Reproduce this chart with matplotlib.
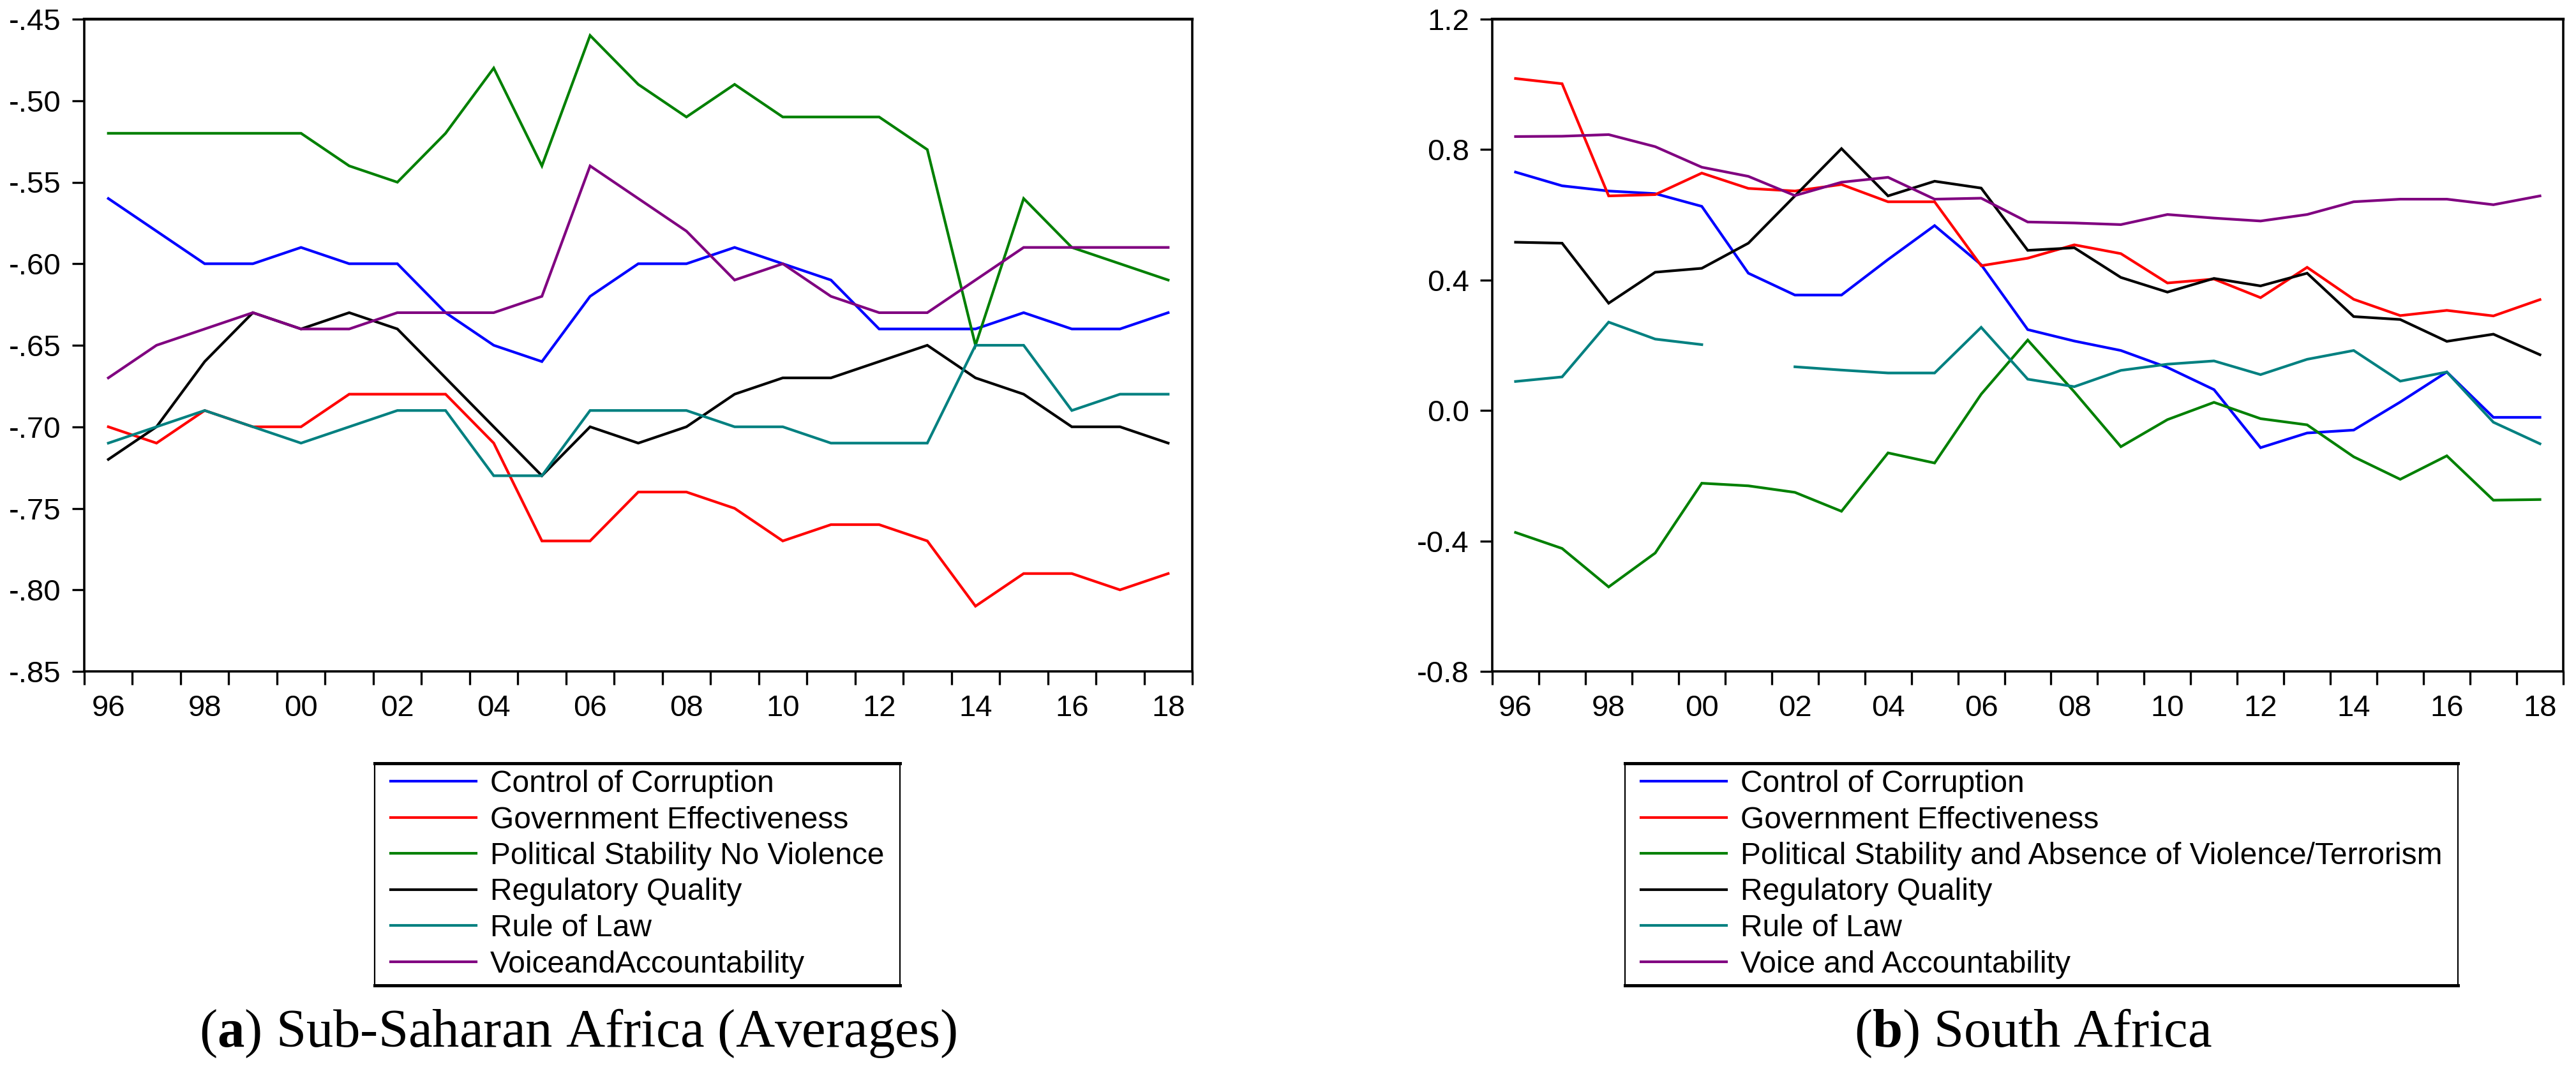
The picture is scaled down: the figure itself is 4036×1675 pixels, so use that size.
import matplotlib
matplotlib.use("Agg")
import matplotlib.pyplot as plt
import numpy as np
from matplotlib.ticker import FixedLocator, FuncFormatter
from matplotlib.patches import Rectangle
from matplotlib.lines import Line2D

# ---- data ----
years = list(range(1996, 2019))

labels_ssa = ["Control of Corruption", "Government Effectiveness",
              "Political Stability No Violence", "Regulatory Quality",
              "Rule of Law", "VoiceandAccountability"]
labels_za = ["Control of Corruption", "Government Effectiveness",
             "Political Stability and Absence of Violence/Terrorism",
             "Regulatory Quality", "Rule of Law", "Voice and Accountability"]

# Sub-Saharan Africa (averages)
ssa_cc = [-0.56, -0.58, -0.60, -0.60, -0.59, -0.60, -0.60, -0.63, -0.65, -0.66, -0.62, -0.60,
          -0.60, -0.59, -0.60, -0.61, -0.64, -0.64, -0.64, -0.63, -0.64, -0.64, -0.63]
ssa_ge = [-0.70, -0.71, -0.69, -0.70, -0.70, -0.68, -0.68, -0.68, -0.71, -0.77, -0.77, -0.74,
          -0.74, -0.75, -0.77, -0.76, -0.76, -0.77, -0.81, -0.79, -0.79, -0.80, -0.79]
ssa_ps = [-0.52, -0.52, -0.52, -0.52, -0.52, -0.54, -0.55, -0.52, -0.48, -0.54, -0.46, -0.49,
          -0.51, -0.49, -0.51, -0.51, -0.51, -0.53, -0.65, -0.56, -0.59, -0.60, -0.61]
ssa_rq = [-0.72, -0.70, -0.66, -0.63, -0.64, -0.63, -0.64, -0.67, -0.70, -0.73, -0.70, -0.71,
          -0.70, -0.68, -0.67, -0.67, -0.66, -0.65, -0.67, -0.68, -0.70, -0.70, -0.71]
ssa_rl = [-0.71, -0.70, -0.69, -0.70, -0.71, -0.70, -0.69, -0.69, -0.73, -0.73, -0.69, -0.69,
          -0.69, -0.70, -0.70, -0.71, -0.71, -0.71, -0.65, -0.65, -0.69, -0.68, -0.68]
ssa_va = [-0.67, -0.65, -0.64, -0.63, -0.64, -0.64, -0.63, -0.63, -0.63, -0.62, -0.54, -0.56,
          -0.58, -0.61, -0.60, -0.62, -0.63, -0.63, -0.61, -0.59, -0.59, -0.59, -0.59]

# South Africa
za_cc = [0.731, 0.689, 0.673, 0.665, 0.626, 0.421, 0.354, 0.354, 0.463, 0.567, 0.447, 0.248,
         0.213, 0.184, 0.132, 0.064, -0.114, -0.069, -0.060, 0.026, 0.118, -0.021, -0.021]
za_ge = [1.018, 1.002, 0.658, 0.662, 0.728, 0.681, 0.673, 0.693, 0.640, 0.640, 0.444, 0.467,
         0.508, 0.481, 0.391, 0.403, 0.346, 0.439, 0.341, 0.291, 0.307, 0.290, 0.340]
za_ps = [-0.374, -0.423, -0.541, -0.437, -0.223, -0.231, -0.251, -0.309, -0.130, -0.161, 0.050,
         0.216, 0.057, -0.111, -0.028, 0.025, -0.025, -0.044, -0.142, -0.211, -0.139, -0.275, -0.273]
za_rq = [0.516, 0.513, 0.329, 0.424, 0.436, 0.513, 0.658, 0.803, 0.658, 0.703, 0.682, 0.491,
         0.499, 0.408, 0.363, 0.405, 0.382, 0.421, 0.288, 0.279, 0.212, 0.234, 0.171]
za_rl = [0.089, 0.103, 0.271, 0.219, 0.202, np.nan, 0.134, 0.124, 0.115, 0.115, 0.255, 0.096,
         0.073, 0.123, 0.142, 0.152, 0.110, 0.157, 0.184, 0.090, 0.118, -0.036, -0.102]
za_va = [0.840, 0.841, 0.846, 0.809, 0.746, 0.718, 0.659, 0.700, 0.715, 0.648, 0.651, 0.578,
         0.575, 0.570, 0.601, 0.590, 0.581, 0.601, 0.640, 0.648, 0.648, 0.631, 0.658]

colors = ["#0000ff", "#ff0000", "#008000", "#000000", "#008080", "#800080"]

# ---- figure ----
W, H = 4037, 1675
fig = plt.figure(figsize=(W / 100, H / 100), dpi=100)
plt.rcParams['mathtext.fontset'] = 'custom'
plt.rcParams['mathtext.rm'] = 'Liberation Serif'
plt.rcParams['mathtext.bf'] = 'Liberation Serif:bold'

sans = 'Liberation Sans'
serif = 'Liberation Serif'


def px_axes(x0, x1, y0, y1):
    return fig.add_axes([x0 / W, 1 - y1 / H, (x1 - x0) / W, (y1 - y0) / H])


def style_axes(ax, yticks, fmt):
    ax.set_xlim(1995.5, 2018.5)
    ax.xaxis.set_major_locator(FixedLocator(years[::2]))
    ax.xaxis.set_major_formatter(FuncFormatter(lambda v, p: f"{int(round(v)) % 100:02d}"))
    ax.xaxis.set_minor_locator(FixedLocator(np.arange(1995.5, 2019, 1.0)))
    ax.tick_params(axis='x', which='major', length=0, pad=26, labelsize=34)
    ax.tick_params(axis='x', which='minor', length=15, width=2.4, direction='out')
    ax.set_yticks(yticks)
    ax.set_ylim(yticks[0], yticks[-1])
    ax.yaxis.set_major_formatter(FuncFormatter(fmt))
    ax.tick_params(axis='y', which='major', length=14, width=2.4, direction='out',
                   pad=12, labelsize=34)
    for lab in ax.get_xticklabels() + ax.get_yticklabels():
        lab.set_family(sans)
    for side in ['left', 'right', 'bottom']:
        ax.spines[side].set_linewidth(2.6)
    ax.spines['top'].set_linewidth(3.2)


def fmt_ssa(v, p):
    s = f"{v:.2f}"
    return s.replace("0.", ".", 1)


def fmt_za(v, p):
    s = f"{v:.1f}"
    return "0.0" if s == "-0.0" else s


ax1 = px_axes(132, 1868, 30, 1052)
ax2 = px_axes(2338, 4016, 30, 1052)

series_ssa = [ssa_cc, ssa_ge, ssa_ps, ssa_rq, ssa_rl, ssa_va]
series_za = [za_cc, za_ge, za_ps, za_rq, za_rl, za_va]

for vals, c in zip(series_ssa, colors):
    ax1.plot(years, vals, color=c, lw=3.0, solid_joinstyle='miter')
for vals, c in zip(series_za, colors):
    ax2.plot(years, vals, color=c, lw=3.0, solid_joinstyle='miter')

style_axes(ax1, np.round(np.arange(-0.85, -0.449, 0.05), 2), fmt_ssa)
style_axes(ax2, np.round(np.arange(-0.8, 1.21, 0.4), 1), fmt_za)


def add_legend(ax, labels, x_left, y_top):
    handles = [Line2D([], [], color=c, lw=3.0) for c in colors]
    leg = fig.legend(handles, labels, loc='upper left',
                     bbox_to_anchor=(x_left / W, 1 - y_top / H), borderaxespad=0,
                     frameon=False, borderpad=0, handlelength=2.8, handletextpad=0.45,
                     labelspacing=0.24, prop={'family': sans, 'size': 34.5})
    return leg


leg1 = add_legend(ax1, labels_ssa, 612, 1206)
leg2 = add_legend(ax2, labels_za, 2571, 1206)

fig.canvas.draw()
for leg in (leg1, leg2):
    bb = leg.get_window_extent()
    x0, x1 = bb.x0 - 25, bb.x1 + 25
    y0, y1 = bb.y0 - 10, bb.y1 + 10
    fig.add_artist(Rectangle((x0 / W, y0 / H), (x1 - x0) / W, (y1 - y0) / H,
                             transform=fig.transFigure, fill=False, ec='black', lw=1.6))
    for yy in (y0, y1):
        fig.add_artist(Line2D([x0 / W, x1 / W], [yy / H, yy / H],
                              transform=fig.transFigure, color='black', lw=3.6))

fig.text(905 / W, 35 / H, r"($\mathbf{a}$) Sub-Saharan Africa (Averages)",
         ha='center', va='baseline', family=serif, fontsize=61)
fig.text(3186 / W, 35 / H, r"($\mathbf{b}$) South Africa",
         ha='center', va='baseline', family=serif, fontsize=61)

fig.savefig("out.png", dpi=100, facecolor='white')
